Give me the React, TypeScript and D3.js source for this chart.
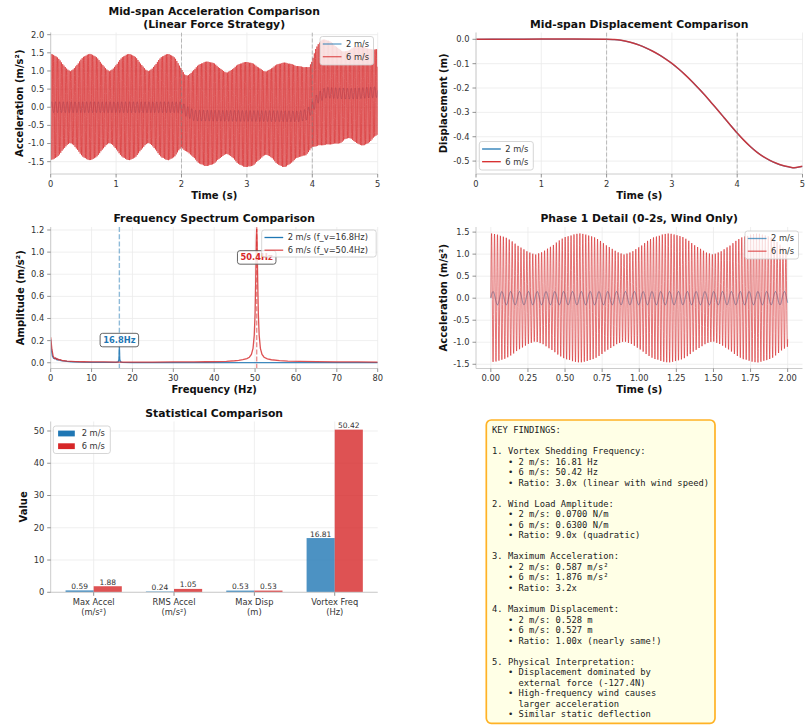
import React from 'react';
import * as d3 from 'd3';

const FIG_W = 809;
const FIG_H = 726;
const BLUE = '#1f77b4';
const RED = '#d62728';
const SANS = "'DejaVu Sans', sans-serif";
const MONO = "'DejaVu Sans Mono', monospace";

// ---------------- data ----------------
// 6 m/s acceleration envelope, read every 0.05 s from 0 to 5 s
const envTime = d3.range(0, 101).map((i) => +(i * 0.05).toFixed(2));
const envUpper6 = [
  1.47, 1.45, 1.38, 1.28, 1.16, 1.05, 1.0, 1.05, 1.17, 1.29, 1.39, 1.45, 1.47, 1.45, 1.38, 1.28, 1.16, 1.05, 1.0, 1.05,
  1.17, 1.29, 1.39, 1.45, 1.47, 1.45, 1.38, 1.27, 1.15, 1.04, 1.0, 1.06, 1.18, 1.3, 1.4, 1.45, 1.47, 1.44, 1.36, 1.22,
  1.05, 0.9, 0.88, 0.95, 1.06, 1.15, 1.21, 1.25, 1.26, 1.25, 1.21, 1.14, 1.06, 0.99, 0.96, 1.01, 1.09, 1.16, 1.21, 1.24,
  1.25, 1.24, 1.2, 1.14, 1.07, 1.01, 0.99, 1.04, 1.11, 1.17, 1.21, 1.23, 1.23, 1.21, 1.18, 1.15, 1.13, 1.12, 1.11, 1.1,
  1.3, 1.6, 1.78, 1.86, 1.87, 1.84, 1.78, 1.7, 1.62, 1.56, 1.54, 1.56, 1.62, 1.67, 1.7, 1.7, 1.66, 1.62, 1.6, 1.6, 1.6,
];
const envLower6 = [
  -1.45, -1.44, -1.37, -1.27, -1.15, -1.04, -0.99, -1.04, -1.16, -1.28, -1.38, -1.44, -1.46, -1.44, -1.37, -1.27, -1.15,
  -1.04, -0.99, -1.04, -1.16, -1.28, -1.38, -1.44, -1.46, -1.44, -1.37, -1.26, -1.14, -1.03, -0.99, -1.05, -1.17, -1.29,
  -1.39, -1.44, -1.46, -1.43, -1.35, -1.22, -1.1, -1.2, -1.25, -1.32, -1.42, -1.52, -1.58, -1.62, -1.62, -1.6, -1.55,
  -1.47, -1.39, -1.32, -1.29, -1.34, -1.43, -1.53, -1.6, -1.64, -1.65, -1.64, -1.6, -1.52, -1.43, -1.35, -1.31, -1.35,
  -1.44, -1.54, -1.61, -1.65, -1.64, -1.58, -1.5, -1.42, -1.37, -1.35, -1.33, -1.22, -1.1, -1.08, -1.06, -1.05, -1.04,
  -1.03, -1.02, -1.01, -1.0, -0.98, -0.88, -0.85, -0.88, -0.95, -1.02, -1.05, -1.05, -1.0, -0.92, -0.82, -0.75,
];
const vortexHz6 = 50.42;
const vortexHz2 = 16.81;
// 2 m/s acceleration: oscillation amplitude and quasi-static mean level
const amp2 = 0.15;
const mean2Time = [0, 2.0, 2.08, 2.2, 3.8, 3.92, 4.0, 4.08, 4.2, 4.6, 5.0];
const mean2Val = [0, 0, -0.12, -0.23, -0.25, -0.2, 0.0, 0.25, 0.4, 0.37, 0.42];

// Mid-span displacement
const dispTime = [0, 0.5, 1.0, 1.5, 2.0, 2.1, 2.2, 2.3, 2.4, 2.5, 2.6, 2.7, 2.8, 2.9, 3.0, 3.1, 3.2, 3.3, 3.4, 3.5, 3.6, 3.7,
  3.8, 3.9, 4.0, 4.1, 4.2, 4.3, 4.4, 4.5, 4.6, 4.7, 4.8, 4.85, 4.9, 5.0];
const disp2 = [0, 0.0005, 0.001, 0.0008, 0, -0.001, -0.003, -0.008, -0.015, -0.024, -0.035, -0.048, -0.063, -0.08, -0.099,
  -0.121, -0.145, -0.171, -0.199, -0.228, -0.259, -0.29, -0.322, -0.354, -0.385, -0.414, -0.44, -0.463, -0.482, -0.497,
  -0.509, -0.519, -0.525, -0.528, -0.527, -0.522];
const disp6 = [0, 0.0005, 0.001, 0.0008, 0, -0.001, -0.003, -0.008, -0.015, -0.024, -0.035, -0.048, -0.063, -0.08, -0.099,
  -0.121, -0.145, -0.171, -0.199, -0.228, -0.259, -0.29, -0.322, -0.354, -0.385, -0.414, -0.44, -0.463, -0.482, -0.497,
  -0.509, -0.518, -0.524, -0.527, -0.526, -0.521];

// Frequency spectrum
const specFreq2 = [0, 0.2, 0.4, 0.7, 1.0, 1.3, 1.6, 2.0, 2.5, 3, 4, 5, 7, 10, 13, 16, 16.5, 16.7, 16.8, 16.9, 17.1, 17.5, 20,
  30, 40, 50, 60, 70, 80];
const specAmp2 = [0.21, 0.11, 0.06, 0.04, 0.035, 0.04, 0.025, 0.028, 0.02, 0.016, 0.012, 0.009, 0.006, 0.004, 0.003, 0.004,
  0.008, 0.03, 0.145, 0.03, 0.008, 0.004, 0.002, 0.001, 0.001, 0.001, 0.001, 0.001, 0.001];
const specFreq6 = [0, 0.3, 0.6, 0.9, 1.1, 1.4, 1.7, 2.0, 2.4, 2.8, 3.3, 4, 5, 6, 8, 10, 13, 16, 20, 25, 30, 35, 38, 41, 43,
  45, 46, 47, 48, 48.6, 49.1, 49.5, 49.8, 50.0, 50.15, 50.3, 50.4, 50.5, 50.65, 50.8, 51.0, 51.3, 51.7, 52.2, 53, 54, 56,
  58, 61, 65, 70, 75, 80];
const specAmp6 = [0.23, 0.12, 0.06, 0.04, 0.045, 0.03, 0.035, 0.025, 0.028, 0.02, 0.018, 0.015, 0.013, 0.011, 0.009,
  0.008, 0.007, 0.006, 0.006, 0.006, 0.007, 0.008, 0.009, 0.01, 0.013, 0.018, 0.022, 0.028, 0.038, 0.05, 0.075, 0.13,
  0.25, 0.44, 0.73, 1.1, 1.21, 1.1, 0.73, 0.44, 0.25, 0.13, 0.075, 0.05, 0.035, 0.027, 0.019, 0.015, 0.012, 0.01,
  0.008, 0.007, 0.006];
const peak2 = { f: 16.8, label: '16.8Hz', y: 0.205 };
const peak6 = { f: 50.4, label: '50.4Hz', y: 0.952 };

// Statistical comparison
const barCategories = [['Max Accel', '(m/s²)'], ['RMS Accel', '(m/s²)'], ['Max Disp', '(m)'], ['Vortex Freq', '(Hz)']];
const bar2 = [0.59, 0.24, 0.53, 16.81];
const bar6 = [1.88, 1.05, 0.53, 50.42];

// Tick values
const accelYTicks = [-1.5, -1.0, -0.5, 0.0, 0.5, 1.0, 1.5, 2.0];
const timeTicks5 = [0, 1, 2, 3, 4, 5];
const dispYTicks = [-0.5, -0.4, -0.3, -0.2, -0.1, 0.0];
const freqTicks = [0, 10, 20, 30, 40, 50, 60, 70, 80];
const specYTicks = [0.0, 0.2, 0.4, 0.6, 0.8, 1.0, 1.2];
const detailXTicks = [0, 0.25, 0.5, 0.75, 1.0, 1.25, 1.5, 1.75, 2.0];
const detailYTicks = [-1.5, -1.0, -0.5, 0.0, 0.5, 1.0, 1.5];
const barYTicks = [0, 10, 20, 30, 40, 50];
const phaseMarks = [2, 4];

const findings = [
  'KEY FINDINGS:',
  '',
  '1. Vortex Shedding Frequency:',
  '   • 2 m/s: 16.81 Hz',
  '   • 6 m/s: 50.42 Hz',
  '   • Ratio: 3.0x (linear with wind speed)',
  '',
  '2. Wind Load Amplitude:',
  '   • 2 m/s: 0.0700 N/m',
  '   • 6 m/s: 0.6300 N/m',
  '   • Ratio: 9.0x (quadratic)',
  '',
  '3. Maximum Acceleration:',
  '   • 2 m/s: 0.587 m/s²',
  '   • 6 m/s: 1.876 m/s²',
  '   • Ratio: 3.2x',
  '',
  '4. Maximum Displacement:',
  '   • 2 m/s: 0.528 m',
  '   • 6 m/s: 0.527 m',
  '   • Ratio: 1.00x (nearly same!)',
  '',
  '5. Physical Interpretation:',
  '   • Displacement dominated by',
  '     external force (-127.4N)',
  '   • High-frequency wind causes',
  '     larger acceleration',
  '   • Similar static deflection',
];

// ---------------- helpers ----------------
type Box = { x0: number; x1: number; y0: number; y1: number };
const hy = (f: (n: number) => string) => (n: number) => f(n).replace('\u2212', '-');

const upperAt = d3.scaleLinear().domain(envTime).range(envUpper6).clamp(true);
const lowerAt = d3.scaleLinear().domain(envTime).range(envLower6).clamp(true);
const mean2At = d3.scaleLinear().domain(mean2Time).range(mean2Val).clamp(true);

function accel6(tEnd: number, dt: number): [number, number][] {
  const out: [number, number][] = [];
  const n = Math.round(tEnd / dt);
  for (let i = 0; i <= n; i++) {
    const t = i * dt;
    const u = upperAt(t), l = lowerAt(t);
    out.push([t, (u + l) / 2 + ((u - l) / 2) * Math.sin(2 * Math.PI * vortexHz6 * t)]);
  }
  return out;
}
function accel2(tEnd: number, dt: number): [number, number][] {
  const out: [number, number][] = [];
  const n = Math.round(tEnd / dt);
  for (let i = 0; i <= n; i++) {
    const t = i * dt;
    out.push([t, mean2At(t) + amp2 * Math.sin(2 * Math.PI * vortexHz2 * t)]);
  }
  return out;
}

function Grid({ b, xs, ys, xTicks, yTicks }: any) {
  return (
    <g stroke="#ebebeb" strokeWidth={0.8}>
      {xTicks.map((t: number, i: number) => (
        <line key={'gx' + i} x1={xs(t)} x2={xs(t)} y1={b.y0} y2={b.y1} />
      ))}
      {yTicks.map((t: number, i: number) => (
        <line key={'gy' + i} x1={b.x0} x2={b.x1} y1={ys(t)} y2={ys(t)} />
      ))}
    </g>
  );
}

function Decor({ b, xs, ys, xTicks, yTicks, xFmt, yFmt, xLabel, yLabel, yLabelX, title, titleBase, xTickLines }: any) {
  const cx = (b.x0 + b.x1) / 2;
  const cy = (b.y0 + b.y1) / 2;
  return (
    <g fontFamily={SANS}>
      <line x1={b.x0} x2={b.x0} y1={b.y0} y2={b.y1} stroke="#cccccc" strokeWidth={1} />
      <line x1={b.x0} x2={b.x1} y1={b.y1} y2={b.y1} stroke="#cccccc" strokeWidth={1} />
      {yTicks.map((t: number, i: number) => (
        <g key={'ty' + i}>
          <line x1={b.x0 - 3.5} x2={b.x0} y1={ys(t)} y2={ys(t)} stroke="#777" strokeWidth={0.8} />
          <text x={b.x0 - 6.5} y={ys(t)} dy="0.35em" textAnchor="end" fontSize={8.3} fill="#333">
            {yFmt(t)}
          </text>
        </g>
      ))}
      {xTicks.map((t: number, i: number) => (
        <g key={'tx' + i}>
          <line x1={xs(t)} x2={xs(t)} y1={b.y1} y2={b.y1 + 3.5} stroke="#777" strokeWidth={0.8} />
          {xTickLines ? (
            xTickLines[i].map((s: string, j: number) => (
              <text key={j} x={xs(t)} y={b.y1 + 12.5 + j * 10.4} textAnchor="middle" fontSize={8.3} fill="#333">
                {s}
              </text>
            ))
          ) : (
            <text x={xs(t)} y={b.y1 + 12.5} textAnchor="middle" fontSize={8.3} fill="#333">
              {xFmt(t)}
            </text>
          )}
        </g>
      ))}
      {xLabel && (
        <text x={cx} y={b.y1 + 24.5} textAnchor="middle" fontSize={10} fontWeight="bold" fill="#111">
          {xLabel}
        </text>
      )}
      <text
        transform={`translate(${yLabelX},${cy}) rotate(-90)`}
        dy="0.35em"
        textAnchor="middle"
        fontSize={10}
        fontWeight="bold"
        fill="#111"
      >
        {yLabel}
      </text>
      {title.map((s: string, i: number) => (
        <text key={i} x={cx} y={titleBase[i]} textAnchor="middle" fontSize={10.8} fontWeight="bold" fill="#111">
          {s}
        </text>
      ))}
    </g>
  );
}

function Legend({ x, y, w, h, items }: any) {
  return (
    <g fontFamily={SANS}>
      <rect x={x} y={y} width={w} height={h} rx={2.5} fill="#fff" fillOpacity={0.8} stroke="#cccccc" strokeWidth={0.8} />
      {items.map((it: any, i: number) => {
        const cy = y + 7.5 + i * 12.7;
        return (
          <g key={i}>
            {it.kind === 'patch' ? (
              <rect x={x + 4.8} y={cy - 2.9} width={16.7} height={5.8} fill={it.color} />
            ) : (
              <line x1={x + 2.8} x2={x + 21.5} y1={cy} y2={cy} stroke={it.color} strokeWidth={1.3} strokeOpacity={it.opacity ?? 1} />
            )}
            <text x={x + (it.kind === 'patch' ? 28.4 : 26)} y={cy} dy="0.35em" fontSize={8.3} fill="#333">
              {it.label}
            </text>
          </g>
        );
      })}
    </g>
  );
}

function VDash({ xs, b, x, color, opacity, dash, width }: any) {
  return (
    <line x1={xs(x)} x2={xs(x)} y1={b.y0} y2={b.y1} stroke={color} strokeOpacity={opacity} strokeWidth={width}
      strokeDasharray={dash} />
  );
}

function PeakLabel({ xs, ys, p, color }: any) {
  const w = 38.5, h = 13.5;
  const cx = xs(p.f), cy = ys(p.y);
  return (
    <g>
      <rect x={cx - w / 2} y={cy - h / 2} width={w} height={h} rx={2.5} fill="#fff" fillOpacity={0.85} stroke="#555"
        strokeWidth={0.9} />
      <text x={cx} y={cy} dy="0.36em" textAnchor="middle" fontSize={8.3} fontWeight="bold" fill={color} fontFamily={SANS}>
        {p.label}
      </text>
    </g>
  );
}

// ---------------- layout ----------------
const C1 = { x0: 50.7, x1: 377.7 };
const C2 = { x0: 476, x1: 802.5 };
const R1 = { y0: 32.5, y1: 174 };
const R2 = { y0: 227, y1: 368.5 };
const R3 = { y0: 421.5, y1: 592.3 };

export default function App() {
  // --- panel 1: acceleration
  const b1: Box = { ...C1, ...R1 };
  const xs1 = d3.scaleLinear().domain([0, 5]).range([b1.x0, b1.x1]);
  const ys1 = d3.scaleLinear().domain([-1.84, 2.06]).range([b1.y1, b1.y0]);
  const line1 = d3.line<[number, number]>().x((d) => xs1(d[0])).y((d) => ys1(d[1]));
  const a6full = accel6(5, 0.001);
  const a2full = accel2(5, 0.001);

  // --- panel 2: displacement
  const b2: Box = { ...C2, ...R1 };
  const xs2 = d3.scaleLinear().domain([0, 5]).range([b2.x0, b2.x1]);
  const ys2 = d3.scaleLinear().domain([-0.553, 0.028]).range([b2.y1, b2.y0]);
  const line2 = d3.line<number>().x((_, i) => xs2(dispTime[i])).y((d) => ys2(d)).curve(d3.curveMonotoneX);

  // --- panel 3: spectrum
  const b3: Box = { ...C1, ...R2 };
  const xs3 = d3.scaleLinear().domain([0, 80]).range([b3.x0, b3.x1]);
  const ys3 = d3.scaleLinear().domain([-0.052, 1.227]).range([b3.y1, b3.y0]);
  const spec2 = specFreq2.map((f, i) => [f, specAmp2[i]] as [number, number]);
  const spec6 = specFreq6.map((f, i) => [f, specAmp6[i]] as [number, number]);
  const line3 = d3.line<[number, number]>().x((d) => xs3(d[0])).y((d) => ys3(d[1]));

  // --- panel 4: phase 1 detail
  const b4: Box = { ...C2, ...R2 };
  const xs4 = d3.scaleLinear().domain([-0.1, 2.1]).range([b4.x0, b4.x1]);
  const ys4 = d3.scaleLinear().domain([-1.596, 1.616]).range([b4.y1, b4.y0]);
  const line4 = d3.line<[number, number]>().x((d) => xs4(d[0])).y((d) => ys4(d[1]));
  const a6p1 = accel6(2, 0.001);
  const a2p1 = accel2(2, 0.001);

  // --- panel 5: bars
  const b5: Box = { ...C1, ...R3 };
  const idx = barCategories.map((_, i) => i);
  const xs5 = d3.scaleLinear().domain([-0.535, 3.535]).range([b5.x0, b5.x1]);
  const ys5 = d3.scaleLinear().domain([0, 52.94]).range([b5.y1, b5.y0]);
  const bw = 0.35;

  const clip = (id: string, b: Box) => (
    <clipPath id={id}>
      <rect x={b.x0} y={b.y0} width={b.x1 - b.x0} height={b.y1 - b.y0} />
    </clipPath>
  );

  const f1 = hy(d3.format('.1f'));

  return (
    <svg width={FIG_W} height={FIG_H} style={{ position: 'absolute', left: 0, top: 0 }} fontFamily={SANS}>
      <defs>
        {clip('c1', b1)}
        {clip('c2', b2)}
        {clip('c3', b3)}
        {clip('c4', b4)}
        {clip('c5', b5)}
      </defs>
      <rect width={FIG_W} height={FIG_H} fill="#fff" />

      {/* Panel 1 */}
      <Grid b={b1} xs={xs1} ys={ys1} xTicks={timeTicks5} yTicks={accelYTicks} />
      <g clipPath="url(#c1)">
        <path d={line1(a2full) || ''} fill="none" stroke={BLUE} strokeOpacity={0.6} strokeWidth={0.8} />
        <path d={line1(a6full) || ''} fill="none" stroke={RED} strokeOpacity={0.7} strokeWidth={0.95} />
        {phaseMarks.map((m) => (
          <VDash key={m} xs={xs1} b={b1} x={m} color="#808080" opacity={0.5} dash="4 2" width={1} />
        ))}
      </g>
      <Decor b={b1} xs={xs1} ys={ys1} xTicks={timeTicks5} yTicks={accelYTicks} xFmt={d3.format('d')} yFmt={f1}
        xLabel="Time (s)" yLabel="Acceleration (m/s²)" yLabelX={19.5}
        title={['Mid-span Acceleration Comparison', '(Linear Force Strategy)']} titleBase={[15, 27.5]} />
      <Legend x={320} y={36.5} w={53.5} h={28.5}
        items={[{ label: '2 m/s', color: BLUE, opacity: 0.7 }, { label: '6 m/s', color: RED, opacity: 0.7 }]} />

      {/* Panel 2 */}
      <Grid b={b2} xs={xs2} ys={ys2} xTicks={timeTicks5} yTicks={dispYTicks} />
      <g clipPath="url(#c2)">
        <path d={line2(disp2) || ''} fill="none" stroke={BLUE} strokeOpacity={0.8} strokeWidth={1.3} />
        <path d={line2(disp6) || ''} fill="none" stroke={RED} strokeOpacity={0.85} strokeWidth={1.5} />
        {phaseMarks.map((m) => (
          <VDash key={m} xs={xs2} b={b2} x={m} color="#808080" opacity={0.5} dash="4 2" width={1} />
        ))}
      </g>
      <Decor b={b2} xs={xs2} ys={ys2} xTicks={timeTicks5} yTicks={dispYTicks} xFmt={d3.format('d')} yFmt={f1}
        xLabel="Time (s)" yLabel="Displacement (m)" yLabelX={443.5}
        title={['Mid-span Displacement Comparison']} titleBase={[28]} />
      <Legend x={479.3} y={141.5} w={54} h={28.5}
        items={[{ label: '2 m/s', color: BLUE }, { label: '6 m/s', color: RED }]} />

      {/* Panel 3 */}
      <Grid b={b3} xs={xs3} ys={ys3} xTicks={freqTicks} yTicks={specYTicks} />
      <g clipPath="url(#c3)">
        <path d={line3(spec2) || ''} fill="none" stroke={BLUE} strokeOpacity={0.85} strokeWidth={1.3} />
        <path d={line3(spec6) || ''} fill="none" stroke={RED} strokeOpacity={0.8} strokeWidth={1.3} />
        <VDash xs={xs3} b={b3} x={peak2.f} color={BLUE} opacity={0.5} dash="5 2.2" width={1.4} />
        <VDash xs={xs3} b={b3} x={peak6.f} color={RED} opacity={0.5} dash="5 2.2" width={1.4} />
      </g>
      <PeakLabel xs={xs3} ys={ys3} p={peak2} color={BLUE} />
      <PeakLabel xs={xs3} ys={ys3} p={peak6} color={RED} />
      <Decor b={b3} xs={xs3} ys={ys3} xTicks={freqTicks} yTicks={specYTicks} xFmt={d3.format('d')} yFmt={f1}
        xLabel="Frequency (Hz)" yLabel="Amplitude (m/s²)" yLabelX={20.7}
        title={['Frequency Spectrum Comparison']} titleBase={[222.2]} />
      <Legend x={261.7} y={230} w={114.5} h={27}
        items={[{ label: '2 m/s (f_v=16.8Hz)', color: BLUE }, { label: '6 m/s (f_v=50.4Hz)', color: RED, opacity: 0.8 }]} />

      {/* Panel 4 */}
      <Grid b={b4} xs={xs4} ys={ys4} xTicks={detailXTicks} yTicks={detailYTicks} />
      <g clipPath="url(#c4)">
        <path d={line4(a2p1) || ''} fill="none" stroke={BLUE} strokeOpacity={0.7} strokeWidth={0.9} />
        <path d={line4(a6p1) || ''} fill="none" stroke={RED} strokeOpacity={0.7} strokeWidth={0.9} />
      </g>
      <Decor b={b4} xs={xs4} ys={ys4} xTicks={detailXTicks} yTicks={detailYTicks} xFmt={d3.format('.2f')} yFmt={f1}
        xLabel="Time (s)" yLabel="Acceleration (m/s²)" yLabelX={443.5}
        title={['Phase 1 Detail (0-2s, Wind Only)']} titleBase={[222.2]} />
      <Legend x={745} y={231} w={53.5} h={28}
        items={[{ label: '2 m/s', color: BLUE, opacity: 0.7 }, { label: '6 m/s', color: RED, opacity: 0.7 }]} />

      {/* Panel 5 */}
      <Grid b={b5} xs={xs5} ys={ys5} xTicks={idx} yTicks={barYTicks} />
      <g clipPath="url(#c5)">
        {idx.map((i) => (
          <g key={i}>
            <rect x={xs5(i - bw)} y={ys5(bar2[i])} width={xs5(i) - xs5(i - bw)} height={ys5(0) - ys5(bar2[i])}
              fill={BLUE} fillOpacity={0.8} />
            <rect x={xs5(i)} y={ys5(bar6[i])} width={xs5(i + bw) - xs5(i)} height={ys5(0) - ys5(bar6[i])}
              fill={RED} fillOpacity={0.8} />
          </g>
        ))}
      </g>
      {idx.map((i) => (
        <g key={'bl' + i} fontFamily={SANS} fontSize={7.5} fill="#333" textAnchor="middle">
          <text x={xs5(i - bw / 2)} y={ys5(bar2[i]) - 1.5}>{bar2[i].toFixed(2)}</text>
          <text x={xs5(i + bw / 2)} y={ys5(bar6[i]) - 1.5}>{bar6[i].toFixed(2)}</text>
        </g>
      ))}
      <Decor b={b5} xs={xs5} ys={ys5} xTicks={idx} yTicks={barYTicks} xFmt={String} yFmt={d3.format('d')}
        xTickLines={barCategories} yLabel="Value" yLabelX={23.3}
        title={['Statistical Comparison']} titleBase={[417.2]} />
      <Legend x={53.3} y={426} w={57} h={27.5}
        items={[{ label: '2 m/s', color: BLUE, kind: 'patch' }, { label: '6 m/s', color: RED, kind: 'patch' }]} />

      {/* Text box */}
      <rect x={486.3} y={420} width={228.7} height={303.3} rx={5} fill="#ffffe0" fillOpacity={0.8} stroke="#ffa500"
        strokeOpacity={0.85} strokeWidth={1.7} />
      <g fontFamily={MONO} fontSize={8.8} fill="#222">
        {findings.map((s, i) => (
          <text key={i} x={492} y={433.2 + i * 10.52} style={{ whiteSpace: 'pre' }}>
            {s}
          </text>
        ))}
      </g>
    </svg>
  );
}
